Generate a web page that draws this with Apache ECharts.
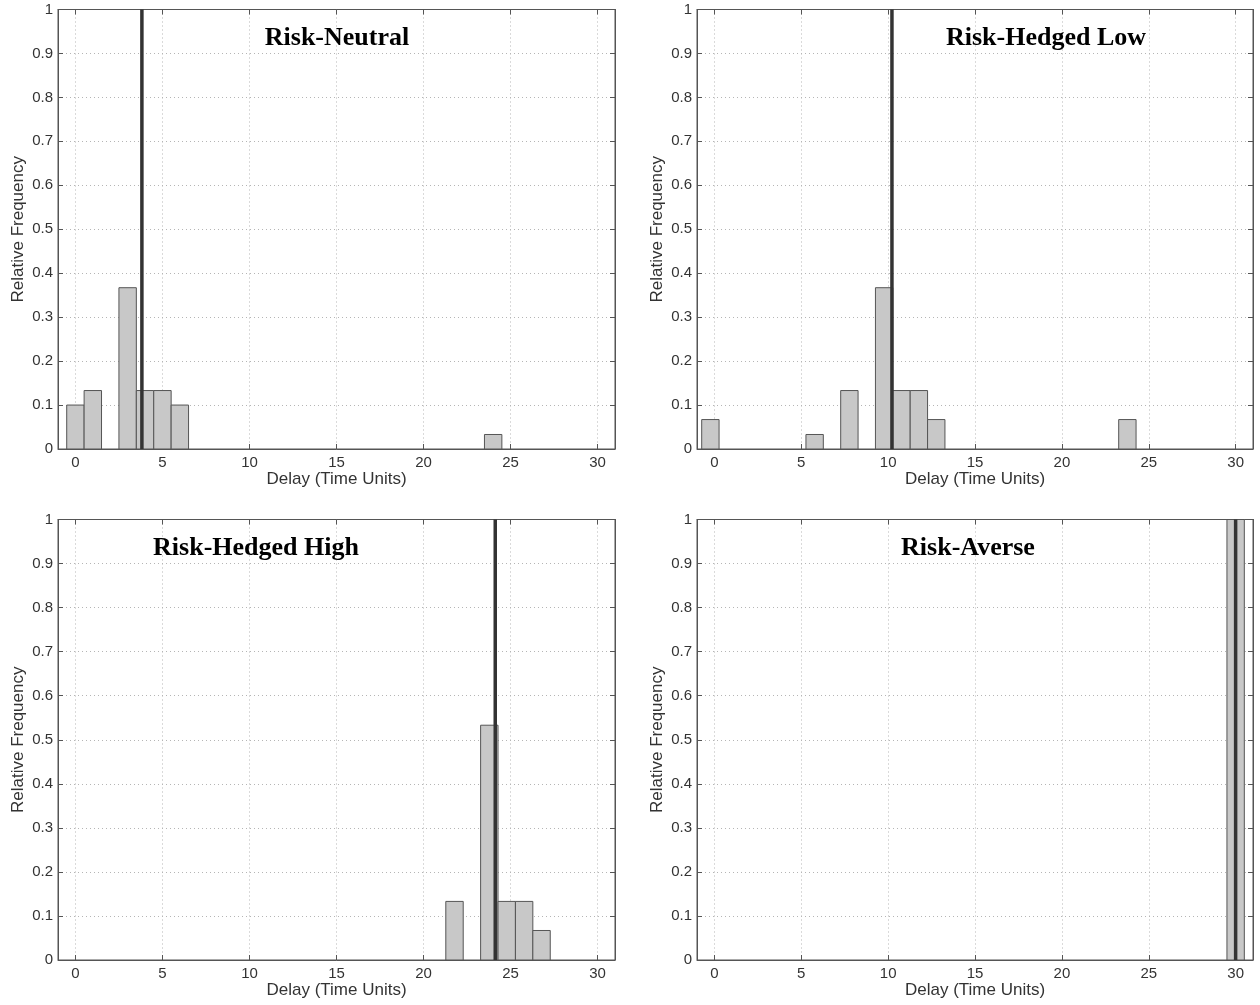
<!DOCTYPE html>
<html>
<head>
<meta charset="utf-8">
<script src="https://cdn.jsdelivr.net/npm/echarts@6/dist/echarts.min.js"></script>
<style>
  html, body { margin: 0; padding: 0; background: #fff; }
  #main { width: 1260px; height: 1005px; }
</style>
</head>
<body>
<div id="main"></div>
<script>
// 数据
var panelTitles = ['Risk-Neutral', 'Risk-Hedged Low', 'Risk-Hedged High', 'Risk-Averse'];
var xName = 'Delay (Time Units)';
var yName = 'Relative Frequency';

var neutralDelay = [0, 1, 3, 4, 5, 6, 24];
var neutralFreq = [0.1, 0.133, 0.367, 0.133, 0.133, 0.1, 0.033];
var neutralMean = 3.82;

var lowDelay = [-0.23, 5.77, 7.77, 9.77, 10.77, 11.77, 12.77, 23.77];
var lowFreq = [0.067, 0.033, 0.133, 0.367, 0.133, 0.133, 0.067, 0.067];
var lowMean = 10.22;

var highDelay = [21.78, 23.78, 24.78, 25.78, 26.78];
var highFreq = [0.133, 0.533, 0.133, 0.133, 0.067];
var highMean = 24.12;

var averseDelay = [30];
var averseFreq = [1];
var averseMean = 30;

var panelDelay = [neutralDelay, lowDelay, highDelay, averseDelay];
var panelFreq = [neutralFreq, lowFreq, highFreq, averseFreq];
var panelMean = [neutralMean, lowMean, highMean, averseMean];

// 布局
var grids = [
    { left: 58, top: 9.5, width: 557, height: 439.5 },
    { left: 697, top: 9.5, width: 556, height: 439.5 },
    { left: 58, top: 519.5, width: 557, height: 440.5 },
    { left: 697, top: 519.5, width: 556, height: 440.5 }
];
var titlePos = [[337, 38], [1046, 38], [256, 548], [968, 548]];

var axisColor = '#555';
var textColor = '#333';

var myChart = echarts.init(document.getElementById('main'));

// 直方图柱子
function renderBar(params, api) {
    var x = api.value(0), y = api.value(1);
    var p0 = api.coord([x - 0.5, y]);
    var p1 = api.coord([x + 0.5, 0]);
    return {
        type: 'rect',
        shape: { x: p0[0], y: p0[1], width: p1[0] - p0[0], height: p1[1] - p0[1] },
        style: { fill: '#c8c8c8', stroke: '#555', lineWidth: 1 }
    };
}

var gridList = [], xAxes = [], yAxes = [], series = [], graphics = [];

for (var i = 0; i < 4; i++) {
    gridList.push({
        left: grids[i].left, top: grids[i].top, width: grids[i].width, height: grids[i].height,
        show: true, borderColor: axisColor, borderWidth: 1, backgroundColor: '#fff'
    });
    // 下方x轴
    xAxes.push({
        type: 'value', gridIndex: i, position: 'bottom', min: -1, max: 31, splitNumber: 6,
        name: xName, nameLocation: 'middle', nameGap: 20,
        nameTextStyle: { fontFamily: 'Liberation Sans', fontSize: 17, color: textColor },
        axisLine: { show: true, onZero: false, lineStyle: { color: axisColor } },
        axisTick: { show: true, inside: true, length: 5, lineStyle: { color: axisColor } },
        axisLabel: { showMinLabel: false, showMaxLabel: false, margin: 6,
            fontFamily: 'Liberation Sans', fontSize: 15, color: textColor },
        splitLine: { show: true, lineStyle: { type: [1, 3], color: '#b5b5b5' } }
    });
    // 上方x轴（只有刻度）
    xAxes.push({
        type: 'value', gridIndex: i, position: 'top', min: -1, max: 31, splitNumber: 6,
        axisLine: { show: true, onZero: false, lineStyle: { color: axisColor } },
        axisTick: { show: true, inside: true, length: 5, lineStyle: { color: axisColor } },
        axisLabel: { show: false }, splitLine: { show: false }
    });
    // 左侧y轴
    yAxes.push({
        type: 'value', gridIndex: i, position: 'left', min: 0, max: 1, interval: 0.1,
        name: yName, nameLocation: 'middle', nameGap: 31, nameRotate: 90,
        nameTextStyle: { fontFamily: 'Liberation Sans', fontSize: 17, color: textColor },
        axisLine: { show: true, onZero: false, lineStyle: { color: axisColor } },
        axisTick: { show: true, inside: true, length: 5, lineStyle: { color: axisColor } },
        axisLabel: { margin: 5, fontFamily: 'Liberation Sans', fontSize: 15, color: textColor },
        splitLine: { show: true, lineStyle: { type: [1, 3], color: '#b5b5b5' } }
    });
    // 右侧y轴（只有刻度）
    yAxes.push({
        type: 'value', gridIndex: i, position: 'right', min: 0, max: 1, interval: 0.1,
        axisLine: { show: true, onZero: false, lineStyle: { color: axisColor } },
        axisTick: { show: true, inside: true, length: 5, lineStyle: { color: axisColor } },
        axisLabel: { show: false }, splitLine: { show: false }
    });

    var barData = [];
    for (var k = 0; k < panelDelay[i].length; k++) {
        barData.push([panelDelay[i][k], panelFreq[i][k]]);
    }
    series.push({
        type: 'custom', xAxisIndex: i * 2, yAxisIndex: i * 2,
        renderItem: renderBar, data: barData, silent: true, z: 2
    });
    // 均值竖线
    series.push({
        type: 'line', xAxisIndex: i * 2, yAxisIndex: i * 2,
        data: [[panelMean[i], 0], [panelMean[i], 1]],
        symbol: 'none', silent: true, z: 3,
        lineStyle: { color: '#333', width: 3.5 }
    });

    graphics.push({
        type: 'text', x: titlePos[i][0], y: titlePos[i][1], z: 10,
        style: {
            text: panelTitles[i], textAlign: 'center', textVerticalAlign: 'middle',
            fontFamily: 'Liberation Serif', fontWeight: 'bold', fontSize: 26, fill: '#000'
        }
    });
}

var option = {
    animation: false,
    backgroundColor: '#fff',
    grid: gridList,
    xAxis: xAxes,
    yAxis: yAxes,
    series: series,
    graphic: graphics
};

myChart.setOption(option);
</script>
</body>
</html>
